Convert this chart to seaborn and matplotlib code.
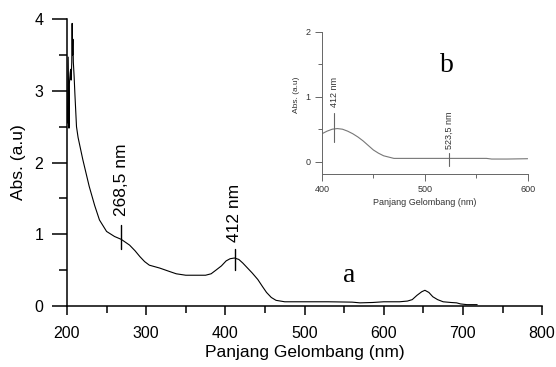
import matplotlib
matplotlib.use("Agg")
import matplotlib.pyplot as plt
import seaborn as sns
import pandas as pd
from matplotlib.ticker import MultipleLocator

# main spectrum (a)
wl_a = [200.5, 201.5, 202.5, 203.0, 204.0, 204.6, 205.3, 206.0, 206.5, 207.0,
        207.5, 208.0, 209.0, 210.0, 212.0, 214.0, 220.0, 228.0, 235.0, 241.0,
        250.0, 260.0, 268.5, 279.0, 286.0, 292.0, 298.0, 304.0, 317.0, 330.0,
        338.0, 350.0, 362.0, 375.0, 382.0, 388.0, 395.0, 401.0, 406.0, 411.5,
        417.0, 422.0, 428.0, 434.0, 441.0, 447.0, 452.0, 458.0, 464.0, 475.0,
        500.0, 530.0, 560.0, 570.0, 586.0, 600.0, 620.0, 630.0, 636.0, 642.0,
        648.0, 652.0, 657.0, 662.0, 668.0, 675.0, 685.0, 692.0, 697.0, 705.0,
        718.0]
abs_a = [2.55, 3.47, 2.48, 3.10, 3.25, 3.30, 3.15, 3.40, 3.94, 3.50,
         3.72, 3.40, 3.20, 2.95, 2.50, 2.35, 2.04, 1.67, 1.40, 1.20,
         1.04, 0.97, 0.93, 0.85, 0.77, 0.69, 0.62, 0.57, 0.53, 0.48,
         0.45, 0.43, 0.43, 0.43, 0.45, 0.50, 0.56, 0.63, 0.66, 0.67,
         0.65, 0.60, 0.53, 0.46, 0.37, 0.27, 0.19, 0.12, 0.08, 0.06,
         0.06, 0.06, 0.055, 0.045, 0.05, 0.06, 0.06, 0.07, 0.09, 0.15,
         0.20, 0.22, 0.19, 0.13, 0.09, 0.06, 0.05, 0.045, 0.03, 0.02,
         0.02]

# inset spectrum (b)
wl_b = [400, 405, 410, 415, 420, 425, 430, 435, 440, 445, 450, 455, 460,
        465, 470, 480, 500, 520, 540, 560, 565, 580, 600]
abs_b = [0.43, 0.47, 0.50, 0.51, 0.50, 0.47, 0.43, 0.38, 0.32, 0.25, 0.18,
         0.13, 0.09, 0.07, 0.05, 0.05, 0.05, 0.05, 0.05, 0.05, 0.04, 0.04, 0.045]

df_a = pd.DataFrame({"wl": wl_a, "abs": abs_a})
df_b = pd.DataFrame({"wl": wl_b, "abs": abs_b})

sns.set_style("ticks")
plt.rcParams["font.family"] = ["Liberation Sans", "DejaVu Sans"]
plt.rcParams.update({"text.color": "black", "axes.labelcolor": "black",
                     "xtick.color": "black", "ytick.color": "black"})

fig = plt.figure(figsize=(5.56, 3.67), dpi=100)

ax = fig.add_axes([0.1205, 0.166, 0.8545, 0.782])
sns.lineplot(data=df_a, x="wl", y="abs", color="black", lw=0.8, ax=ax)
ax.set_xlim(200, 800)
ax.set_ylim(0, 4)
ax.xaxis.set_major_locator(MultipleLocator(100))
ax.xaxis.set_minor_locator(MultipleLocator(50))
ax.yaxis.set_major_locator(MultipleLocator(1))
ax.yaxis.set_minor_locator(MultipleLocator(0.5))
for s in ["top", "right"]:
    ax.spines[s].set_visible(False)
for s in ["left", "bottom"]:
    ax.spines[s].set_linewidth(1.1)
    ax.spines[s].set_color("black")
ax.tick_params(axis="y", which="major", length=11, width=1.1, labelsize=11.5, pad=6)
ax.tick_params(axis="y", which="minor", length=6, width=1.1)
ax.tick_params(axis="x", which="major", length=6.5, width=1.1, labelsize=11.5, pad=8)
ax.tick_params(axis="x", which="minor", length=5, width=1.1)
ax.set_xlabel("Panjang Gelombang (nm)", fontsize=12.5, labelpad=3)
ax.set_ylabel("Abs. (a.u)", fontsize=12.5, labelpad=6)

# peak markers (main)
ax.plot([268.5, 268.5], [0.80, 1.13], color="black", lw=1.0)
ax.text(268.5, 1.25, "268,5 nm", rotation=90, ha="center", va="bottom", fontsize=12.5)
ax.plot([412, 412], [0.50, 0.80], color="black", lw=1.0)
ax.text(412, 0.9, "412 nm", rotation=90, ha="center", va="bottom", fontsize=12.5)
ax.text(557, 0.43, "a", fontsize=20, family="Liberation Serif", ha="center", va="center")

# inset
grey = "#666666"
txt = "#333333"
axi = fig.add_axes([0.579, 0.526, 0.370, 0.387])
sns.lineplot(data=df_b, x="wl", y="abs", color="#777777", lw=0.8, ax=axi)
axi.set_xlim(400, 600)
axi.set_ylim(-0.19, 2)
axi.xaxis.set_major_locator(MultipleLocator(100))
axi.xaxis.set_minor_locator(MultipleLocator(50))
axi.yaxis.set_major_locator(MultipleLocator(1))
axi.yaxis.set_minor_locator(MultipleLocator(0.5))
for s in ["top", "right"]:
    axi.spines[s].set_visible(False)
for s in ["left", "bottom"]:
    axi.spines[s].set_linewidth(0.7)
    axi.spines[s].set_color(grey)
axi.tick_params(which="major", length=5, width=0.7, labelsize=6.5, color=grey, labelcolor=txt, pad=3)
axi.tick_params(which="minor", length=3, width=0.7, color=grey)
axi.set_xlabel("Panjang Gelombang (nm)", fontsize=6.5, color=txt, labelpad=3)
axi.set_ylabel("Abs. (a.u)", fontsize=6, color=txt)
axi.yaxis.set_label_coords(-0.105, 0.56)
axi.plot([412, 412], [0.31, 0.75], color=grey, lw=0.8)
axi.text(412, 0.85, "412 nm", rotation=90, ha="center", va="bottom", fontsize=6.5, color=txt)
axi.plot([523.5, 523.5], [-0.06, 0.14], color=grey, lw=0.8)
axi.text(523.5, 0.2, "523,5 nm", rotation=90, ha="center", va="bottom", fontsize=6.5, color=txt)
axi.text(522, 1.49, "b", fontsize=20, family="Liberation Serif", ha="center", va="center")

fig.savefig("out.png", dpi=100)
